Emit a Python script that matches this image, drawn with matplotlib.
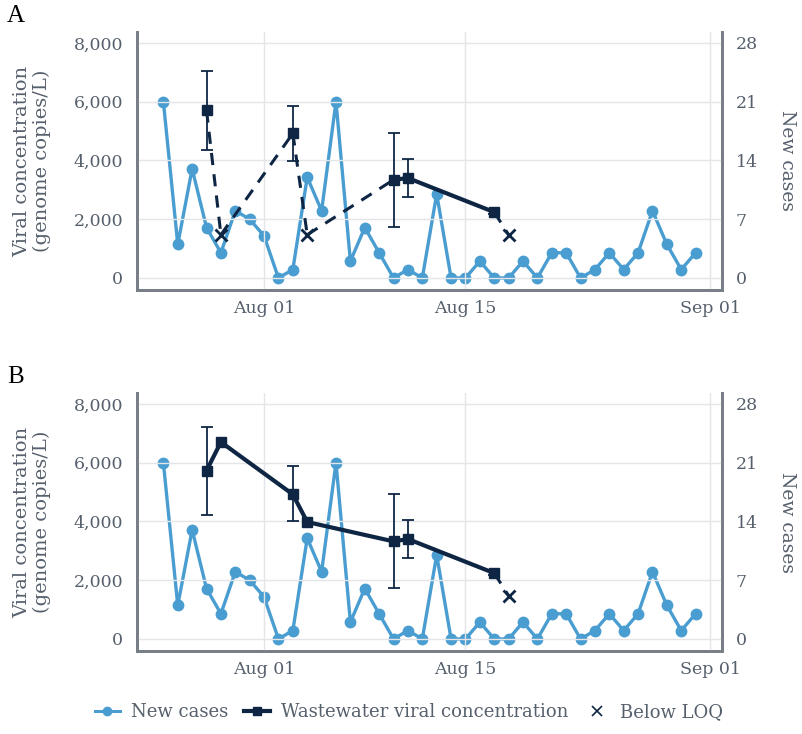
import pandas as pd
import matplotlib
matplotlib.use('Agg')
import matplotlib.pyplot as plt
import matplotlib.dates as mdates
from matplotlib.lines import Line2D
from matplotlib import rcParams

rcParams.update({'font.family': 'DejaVu Serif'})
rcParams.update({'font.size': 12})

# ---- data ----
case_dates = pd.date_range('2020-07-25', '2020-08-31')
new_cases = [21, 4, 13, 6, 3, 8, 7,
             5, 0, 1, 12, 8, 21, 2, 6, 3, 0,
             1, 0, 10, 0, 0, 2, 0, 0, 2, 0,
             3, 3, 0, 1, 3, 1, 3, 8, 4, 1, 3]

# panel A: measured samples only
ww_dates_a = pd.to_datetime(['2020-07-28', '2020-08-03', '2020-08-10', '2020-08-11', '2020-08-17'])
ww_a = [5700, 4920, 3340, 3400, 2240]
ww_a_low = [4340, 3990, 1730, 2740, 2190]
ww_a_high = [7030, 5850, 4930, 4050, 2290]

# panel B: below-LOQ samples replaced
ww_dates_b = pd.to_datetime(['2020-07-28', '2020-07-29', '2020-08-03', '2020-08-04',
                             '2020-08-10', '2020-08-11', '2020-08-17'])
ww_b = [5730, 6700, 4920, 3980, 3320, 3400, 2240]
err_dates_b = pd.to_datetime(['2020-07-28', '2020-08-03', '2020-08-10', '2020-08-11', '2020-08-17'])
err_b_mid = [5730, 4920, 3320, 3400, 2240]
err_b_low = [4210, 4000, 1750, 2740, 2190]
err_b_high = [7220, 5870, 4930, 4050, 2290]

loq_dates_a = pd.to_datetime(['2020-07-29', '2020-08-04', '2020-08-18'])
loq_dates_b = pd.to_datetime(['2020-08-18'])
loq_value = 1470

light_blue = '#4a9dd0'
navy = '#0e2644'
grey_txt = '#56606c'
grey_axis = '#787e86'


def connect(ax, dates, vals, ldates):
    # solid between measured samples, dashed where a below-LOQ sample is involved
    pts = [(d, v, False) for d, v in zip(dates, vals)] + [(d, loq_value, True) for d in ldates]
    pts.sort(key=lambda p: p[0])
    for p, q in zip(pts[:-1], pts[1:]):
        if p[2] or q[2]:
            ax.plot([p[0], q[0]], [p[1], q[1]], color=navy, lw=2.2,
                    dashes=(4, 3), zorder=3)
        else:
            ax.plot([p[0], q[0]], [p[1], q[1]], color=navy, lw=3.0, zorder=3)


def panel(ax, dates, vals, edates, emid, elow, ehigh, ldates, letter):
    ax2 = ax.twinx()
    ax.set_zorder(ax2.get_zorder() + 1)
    ax.patch.set_visible(False)

    ax2.plot(case_dates, new_cases, color=light_blue, lw=2.4, marker='o',
             markersize=7.5, zorder=2)

    connect(ax, dates, vals, ldates)
    yerr = [[m - l for m, l in zip(emid, elow)], [h - m for m, h in zip(emid, ehigh)]]
    ax.errorbar(edates, emid, yerr=yerr, fmt='none', ecolor=navy, elinewidth=1.3,
                capsize=4.5, capthick=1.3, zorder=4)
    ax.plot(dates, vals, linestyle='none', marker='s', markersize=7, color=navy, zorder=5)
    ax.plot(ldates, [loq_value] * len(ldates), linestyle='none', marker='x',
            markersize=8, markeredgewidth=2, color=navy, zorder=5)

    ax.set_xlim(pd.Timestamp('2020-07-23 04:00'), pd.Timestamp('2020-09-01 20:00'))
    ax.set_ylim(-410, 8370)
    ax2.set_ylim(-410 * 28 / 8000, 8370 * 28 / 8000)
    ax.set_yticks([0, 2000, 4000, 6000, 8000])
    ax.set_yticklabels(['0', '2,000', '4,000', '6,000', '8,000'])
    ax2.set_yticks([0, 7, 14, 21, 28])
    ax.set_xticks(pd.to_datetime(['2020-08-01', '2020-08-15', '2020-09-01']))
    ax.xaxis.set_major_formatter(mdates.DateFormatter('%b %d'))

    ax.grid(True, color='#e3e5e8', lw=1)
    ax.set_axisbelow(True)
    for a in (ax, ax2):
        a.tick_params(length=0, colors=grey_txt, labelsize=12.5)
        a.spines['top'].set_visible(False)
        for s in ('left', 'right', 'bottom'):
            a.spines[s].set_color(grey_axis)
            a.spines[s].set_linewidth(2)
    ax.tick_params(axis='y', pad=10)
    ax2.tick_params(axis='y', pad=10)
    ax.tick_params(axis='x', pad=7)

    ax.set_ylabel('Viral concentration\n(genome copies/L)', color=grey_txt,
                  fontsize=14, labelpad=16, linespacing=1.1)
    ax2.set_ylabel('New cases', color=grey_txt, fontsize=13.5, rotation=270, labelpad=27)
    ax.text(-0.222, 1.105, letter, transform=ax.transAxes, fontsize=18,
            family='Liberation Serif', va='top', ha='left')


fig = plt.figure(figsize=(8.02, 7.34), dpi=100)
ax_a = fig.add_axes([137 / 802, 1 - 290 / 734, 585 / 802, 258 / 734])
ax_b = fig.add_axes([137 / 802, 1 - 651 / 734, 585 / 802, 258 / 734])

panel(ax_a, ww_dates_a, ww_a, ww_dates_a, ww_a, ww_a_low, ww_a_high, loq_dates_a, 'A')
panel(ax_b, ww_dates_b, ww_b, err_dates_b, err_b_mid, err_b_low, err_b_high, loq_dates_b, 'B')

handles = [
    Line2D([], [], color=light_blue, lw=2.2, marker='o', markersize=6),
    Line2D([], [], color=navy, lw=3, marker='s', markersize=6),
    Line2D([], [], color=navy, lw=0, marker='x', markersize=7, markeredgewidth=1.2),
]
labels = ['New cases', 'Wastewater viral concentration', 'Below LOQ']
leg = fig.legend(handles, labels, loc='center', bbox_to_anchor=(0.51, 1 - 712 / 734),
                 ncol=3, frameon=False, fontsize=13, handlelength=1.4,
                 handletextpad=0.6, columnspacing=0.9)
for t in leg.get_texts():
    t.set_color(grey_txt)

fig.savefig('out.png', dpi=100)
